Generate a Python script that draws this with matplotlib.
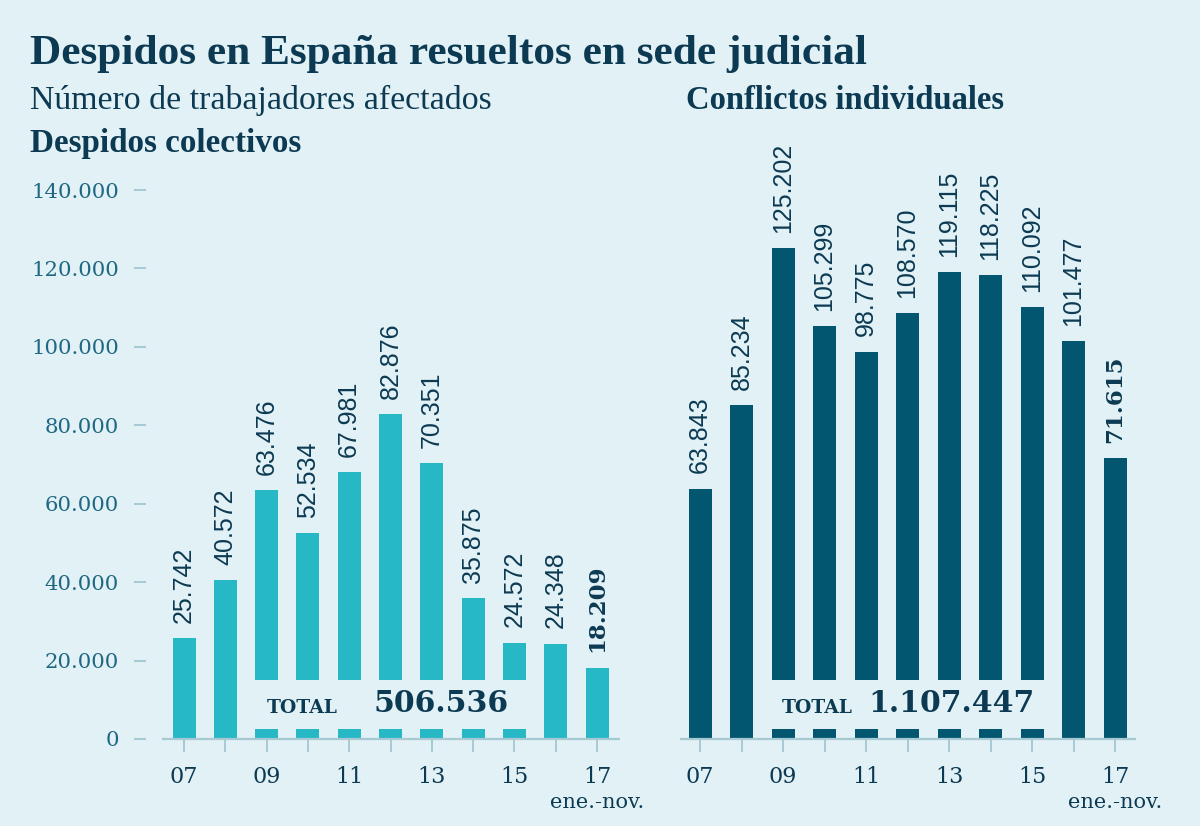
import matplotlib
matplotlib.use("Agg")
import matplotlib.pyplot as plt
from matplotlib.patches import Rectangle

# ---------------- data ----------------
years = ["07", "08", "09", "10", "11", "12", "13", "14", "15", "16", "17"]
year_labels = ["07", "", "09", "", "11", "", "13", "", "15", "", "17"]
colectivos = [25742, 40572, 63476, 52534, 67981, 82876, 70351, 35875, 24572, 24348, 18209]
individuales = [63843, 85234, 125202, 105299, 98775, 108570, 119115, 118225, 110092, 101477, 71615]
total_colectivos = "506.536"
total_individuales = "1.107.447"
y_ticks = [0, 20000, 40000, 60000, 80000, 100000, 120000, 140000]
y_tick_labels = ["0", "20.000", "40.000", "60.000", "80.000", "100.000", "120.000", "140.000"]

title = "Despidos en España resueltos en sede judicial"
subtitle = "Número de trabajadores afectados"
left_head = "Despidos colectivos"
right_head = "Conflictos individuales"
last_note = "ene.-nov."

# ---------------- style ----------------
BG = "#e2f1f5"
NAVY = "#0c3a53"
TICKC = "#1f6883"
LINEC = "#a6c9d4"
C_LEFT = "#27b8c6"
C_RIGHT = "#02566f"
SERIF = ["Liberation Serif", "DejaVu Serif"]
SERIF2 = ["DejaVu Serif"]
SANS = ["Liberation Sans", "DejaVu Sans"]

W, H = 1200, 826
fig = plt.figure(figsize=(W / 100, H / 100), dpi=100, facecolor=BG)

def fx(px):
    return px / W

def fy(py):
    return 1 - py / H

# headings
fig.text(fx(30), fy(64), title, family=SERIF, weight="bold", fontsize=31.2, color=NAVY, va="baseline")
fig.text(fx(30), fy(109), subtitle, family=SERIF, fontsize=24.4, color=NAVY, va="baseline")
fig.text(fx(30), fy(152), left_head, family=SERIF, weight="bold", fontsize=23.9, color=NAVY, va="baseline")
fig.text(fx(686), fy(109), right_head, family=SERIF, weight="bold", fontsize=23.5, color=NAVY, va="baseline")

PX_PER_UNIT = 3.921 / 1000.0
Y0 = 739
YMAX = 160000
ax_h = YMAX * PX_PER_UNIT


def make_panel(left_px, right_px, x0_px, step_px, line_start_px, values, color, total_txt,
               total_lbl_px, total_num_px, show_y):
    ax = fig.add_axes([fx(left_px), fy(Y0), (right_px - left_px) / W, ax_h / H])
    ax.set_facecolor("none")
    xl = (left_px - x0_px) / step_px
    xr = (right_px - x0_px) / step_px
    ax.set_xlim(xl, xr)
    ax.set_ylim(0, YMAX)
    xs = list(range(len(values)))
    ax.bar(xs, values, width=23 / step_px, color=color, zorder=2)
    # break band covering 09-15
    ax.add_patch(Rectangle((1.5, 2600), 7.0, 15100 - 2600, facecolor=BG, edgecolor="none", zorder=3))
    # baseline
    ls = (line_start_px - x0_px) / step_px
    ax.plot([ls, xr], [0, 0], color=LINEC, lw=1.6, zorder=4, clip_on=False, solid_capstyle="butt")
    for s in ax.spines.values():
        s.set_visible(False)
    ax.set_xticks(xs)
    ax.set_xticklabels(year_labels, family=SERIF2, fontsize=16, color=NAVY)
    ax.tick_params(axis="x", length=9.5, width=1.4, color=LINEC, pad=10)
    if show_y:
        ax.set_yticks(y_ticks)
        ax.set_yticklabels(y_tick_labels, family=SERIF2, fontsize=15.3, color=TICKC)
        ax.tick_params(axis="y", length=8.6, width=1.4, color=LINEC, pad=11)
    else:
        ax.set_yticks([])
    # bar labels
    for i, v in enumerate(values):
        txt = f"{v:,}".replace(",", ".")
        last = i == len(values) - 1
        ax.annotate(txt, (i, v), xytext=(0, 11), textcoords="offset points",
                    rotation=90, ha="center", va="bottom",
                    family=(SERIF2 if last else SANS), weight=("bold" if last else "normal"),
                    fontsize=(16.5 if last else 18), color=NAVY, zorder=5)
    # total
    ax.text((total_lbl_px - x0_px) / step_px, 8000, "TOTAL", family=SERIF2, weight="bold",
            fontsize=13.5, color=NAVY, ha="center", va="center", zorder=6)
    ax.text((total_num_px - x0_px) / step_px, 9000, total_txt, family=SERIF2, weight="bold",
            fontsize=21.5, color=NAVY, ha="center", va="center", zorder=6)
    # note below last tick
    ax.annotate(last_note, (len(values) - 1, 0), xytext=(0, -64), textcoords="offset pixels",
                ha="center", va="center", family=SERIF2, fontsize=15, color=NAVY,
                annotation_clip=False)
    return ax


make_panel(146, 620, 184, 41.3, 162, colectivos, C_LEFT, total_colectivos, 302, 441, True)
make_panel(680, 1136, 700, 41.5, 680, individuales, C_RIGHT, total_individuales, 817, 951, False)

fig.savefig("out.png", dpi=100, facecolor=BG)
